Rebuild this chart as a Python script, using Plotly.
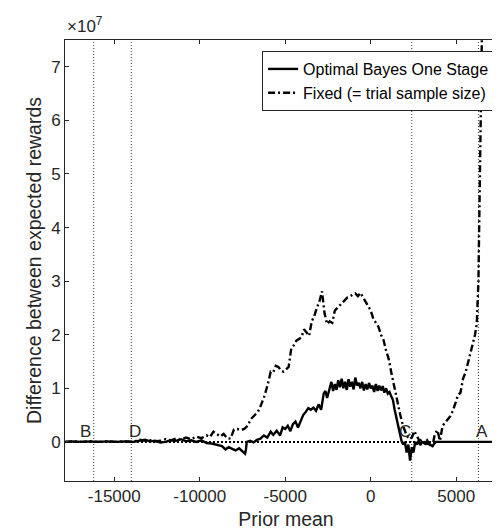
import plotly.graph_objects as go

# ---------------- data (y values in units of 1e7) ----------------
x_optimal = [-17880, -17400, -16900, -16400, -15900, -15400, -14900, -14400, -13900, -13500,
             -13200, -12900, -12600, -12300, -12000, -11700, -11400, -11100, -10800, -10500,
             -10200, -9900, -9600, -9300, -9000, -8700, -8500, -8300, -8100, -7900,
             -7700, -7500, -7350, -7300, -7250, -7050, -6850, -6650, -6450, -6250,
             -6050, -5850, -5700, -5500, -5300, -5150, -5000, -4850, -4700, -4550,
             -4400, -4250, -4100, -3950, -3800, -3650, -3500, -3350, -3200, -3050,
             -2900, -2750, -2650, -2550, -2400, -2300, -2200, -2100, -2000, -1900,
             -1800, -1700, -1600, -1500, -1400, -1300, -1200, -1100, -1000, -900,
             -800, -700, -600, -500, -400, -300, -200, -100, 0, 100,
             200, 300, 400, 500, 600, 700, 800, 900, 1000, 1100,
             1200, 1300, 1400, 1500, 1600, 1700, 1800, 1900, 2000, 2100,
             2200, 2300, 2400, 2500, 2600, 2700, 2800, 2900, 3000, 3200,
             3400, 3600, 3800, 4000, 5000, 6000, 7000, 7970]
y_optimal = [0.0, 0.01, 0.0, 0.01, 0.0, 0.01, 0.0, 0.01, 0.0, 0.03,
             0.04, 0.01, 0.02, -0.01, 0.0, 0.03, 0.02, 0.05, 0.01, 0.03,
             0.0, 0.03, -0.02, -0.03, -0.05, -0.08, -0.14, -0.10, -0.13, -0.16,
             -0.12, -0.18, -0.22, -0.15, 0.0, 0.02, -0.01, 0.04, 0.06, 0.12,
             0.08, 0.19, 0.13, 0.21, 0.12, 0.27, 0.24, 0.30, 0.20, 0.33,
             0.38, 0.27, 0.40, 0.50, 0.56, 0.63, 0.60, 0.64, 0.58, 0.70,
             0.60, 0.90, 0.95, 0.82, 1.00, 1.12, 0.95, 1.08, 0.97, 1.15,
             1.02, 1.18, 1.00, 1.12, 0.97, 1.17, 1.03, 1.12, 0.98, 1.20,
             1.05, 1.10, 1.00, 1.12, 0.96, 1.08, 0.98, 1.10, 1.00, 1.05,
             0.93, 1.08, 0.95, 1.05, 0.96, 1.04, 0.92, 1.00, 0.90, 0.93,
             0.85, 0.78, 0.60, 0.45, 0.35, 0.15, 0.02, -0.05, 0.0, -0.20,
             -0.05, -0.35, -0.10, -0.20, 0.0, -0.05, 0.02, -0.06, 0.0, -0.04,
             -0.03, -0.08, 0.0, 0.0, 0.0, 0.0, 0.0, 0.0]

x_fixed = [-17880, -17400, -16900, -16400, -15900, -15400, -14900, -14400, -13900, -13500,
           -13200, -12900, -12600, -12300, -12000, -11700, -11400, -11100, -10800, -10500,
           -10200, -9900, -9600, -9400, -9200, -9000, -8800, -8600, -8400, -8200,
           -8000, -7800, -7600, -7400, -7200, -7000, -6800, -6600, -6400, -6200,
           -6000, -5850, -5700, -5550, -5400, -5250, -5100, -4950, -4800, -4650,
           -4500, -4350, -4200, -4050, -3900, -3750, -3600, -3450, -3300, -3150,
           -3000, -2850, -2700, -2550, -2400, -2250, -2100, -1950, -1800, -1650,
           -1500, -1350, -1200, -1050, -900, -750, -600, -450, -300, -150,
           0, 150, 300, 450, 600, 750, 900, 1050, 1200, 1350,
           1500, 1650, 1800, 1950, 2100, 2250, 2400, 2550, 2700, 2850,
           3000, 3150, 3300, 3450, 3600, 3750, 3900, 4050, 4200, 4350,
           4500, 4650, 4800, 4950, 5100, 5250, 5400, 5550, 5700, 5850,
           6000, 6100, 6200, 6250, 6300, 6330, 6360, 6400, 6440, 6480,
           6520]
y_fixed = [0.0, 0.01, 0.0, 0.01, 0.0, 0.01, 0.0, 0.01, 0.0, 0.04,
           0.02, 0.03, 0.01, 0.02, 0.05, 0.03, 0.06, 0.04, 0.08, 0.05,
           0.10, 0.07, 0.12, 0.09, 0.19, 0.14, 0.10, 0.15, 0.07, 0.06,
           0.23, 0.24, 0.22, 0.24, 0.30, 0.43, 0.50, 0.56, 0.70, 0.87,
           1.10, 1.31, 1.30, 1.42, 1.40, 1.33, 1.31, 1.35, 1.40, 1.74,
           1.80, 1.89, 1.92, 1.95, 2.10, 2.05, 1.98, 2.25, 2.35, 2.50,
           2.62, 2.81, 2.40, 2.20, 2.25, 2.22, 2.45, 2.50, 2.55, 2.58,
           2.65, 2.70, 2.72, 2.75, 2.77, 2.72, 2.78, 2.70, 2.62, 2.55,
           2.45, 2.30, 2.22, 2.15, 2.00, 1.90, 1.70, 1.55, 1.30, 1.10,
           0.85, 0.62, 0.40, 0.25, 0.12, 0.05, 0.08, 0.20, 0.10, 0.02,
           0.05, -0.02, 0.03, -0.06, -0.10, 0.15, 0.22, 0.02, 0.30, 0.35,
           0.42, 0.48, 0.58, 0.72, 0.87, 0.92, 1.18, 1.30, 1.50, 1.70,
           1.87, 2.00, 2.20, 2.50, 3.00, 3.73, 4.50, 5.50, 6.40, 7.20,
           8.00]

SCALE = 1e7
marker_names = ["B", "D", "C", "A"]
marker_x = [-16200, -14000, 2400, 6300]
marker_label_x = [-16700, -13780, 2000, 6510]

x_tick_vals = [-15000, -10000, -5000, 0, 5000]
x_tick_text = ["-15000", "-10000", "-5000", "0", "5000"]
y_tick_vals = [0, 1, 2, 3, 4, 5, 6, 7]
y_tick_text = ["0", "1", "2", "3", "4", "5", "6", "7"]

FONT = "Liberation Sans, Arial, sans-serif"
TXT = "#262626"

fig = go.Figure()

# reference lines
for mx in marker_x:
    fig.add_shape(type="line", xref="x", yref="paper", x0=mx, x1=mx, y0=0, y1=1,
                  line=dict(color="#404040", width=1, dash="1px,2px"), layer="below")
fig.add_shape(type="line", xref="paper", yref="y", x0=0, x1=1, y0=0, y1=0,
              line=dict(color="black", width=2, dash="2px,2px"), layer="below")

fig.add_trace(go.Scatter(x=x_optimal, y=[v * SCALE for v in y_optimal], mode="lines",
                         name="Optimal Bayes One Stage",
                         line=dict(color="black", width=2.4)))
fig.add_trace(go.Scatter(x=x_fixed, y=[v * SCALE for v in y_fixed], mode="lines",
                         name="Fixed (= trial sample size)",
                         line=dict(color="black", width=2.4, dash="7px,3px,2px,3px")))

for name, lx in zip(marker_names, marker_label_x):
    fig.add_annotation(x=lx, y=0.2 * SCALE, xref="x", yref="y", text=name, showarrow=False,
                       xanchor="center", yanchor="middle",
                       font=dict(family=FONT, size=17, color=TXT))

fig.add_annotation(x=0, y=1, xref="paper", yref="paper", text="×10<sup>7</sup>",
                   showarrow=False, xanchor="left", yanchor="bottom", yshift=2,
                   font=dict(family=FONT, size=17, color=TXT))

axis_common = dict(showline=True, mirror="ticks", linecolor=TXT, linewidth=1,
                   ticks="inside", ticklen=4, tickcolor=TXT, tickwidth=1,
                   showgrid=False, zeroline=False, automargin=False,
                   tickfont=dict(family=FONT, size=17, color=TXT))

fig.update_layout(
    width=500, height=529,
    margin=dict(l=57, r=1, t=32, b=56),
    paper_bgcolor="white", plot_bgcolor="white",
    showlegend=True,
    legend=dict(x=0.973, y=0.975, xanchor="right", yanchor="top",
                bgcolor="white", bordercolor=TXT, borderwidth=1,
                font=dict(family=FONT, size=16, color="black"),
                tracegroupgap=0),
    xaxis=dict(range=[-17880, 7970], tickvals=x_tick_vals, ticktext=x_tick_text,
               title=dict(text="Prior mean", font=dict(family=FONT, size=19.5, color=TXT),
                          standoff=6),
               **axis_common),
    yaxis=dict(range=[-0.73e7, 7.5e7], tickvals=[v * SCALE for v in y_tick_vals],
               ticktext=y_tick_text,
               title=dict(text="Difference between expected rewards",
                          font=dict(family=FONT, size=19.5, color=TXT), standoff=4),
               **axis_common),
)

fig.write_html("out.html")
